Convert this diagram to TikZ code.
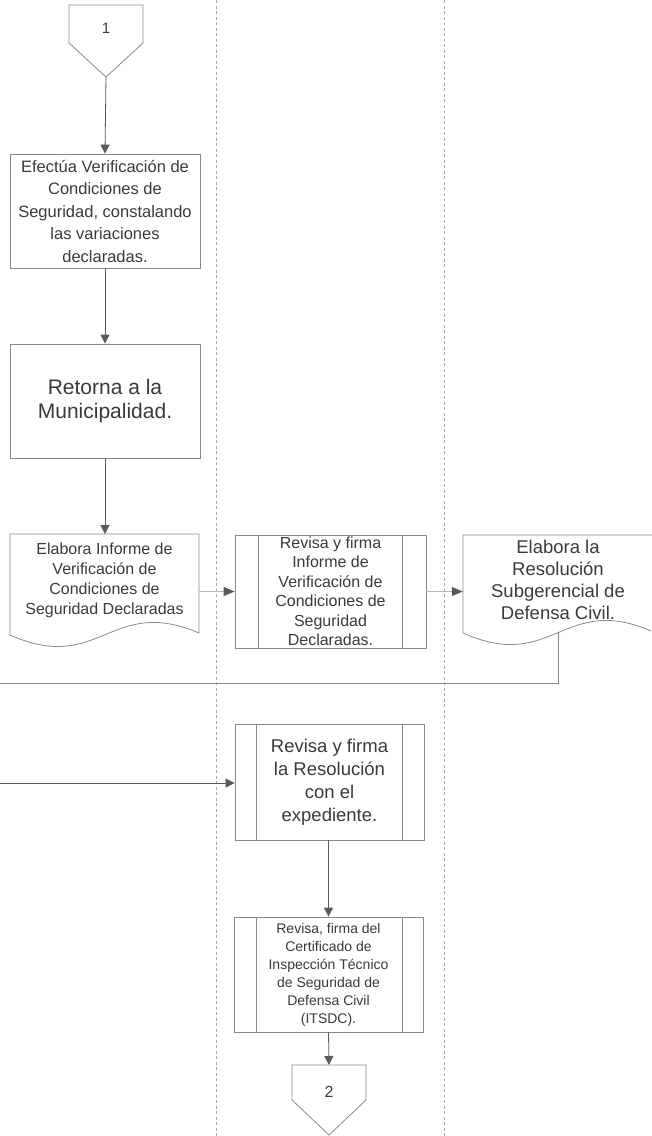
\documentclass[tikz,border=0pt]{standalone}
\usepackage{fontspec}
\setmainfont{Liberation Sans}
\usetikzlibrary{arrows.meta,calc}
\definecolor{inkgray}{HTML}{3A3A3A}
\definecolor{boxgray}{HTML}{8A8A8A}
\definecolor{flowgray}{HTML}{5A5A5A}
\definecolor{lightflow}{HTML}{B8B8B8}
\definecolor{lanegray}{HTML}{A8A8A8}
\tikzset{
  boxline/.style={draw=boxgray, line width=0.8pt},
  procbox/.style={boxline, align=center, text=inkgray, inner sep=0pt},
  txt/.style={align=center, text=inkgray, inner sep=0pt},
  flow/.style={draw=flowgray, line width=0.8pt,
    -{Triangle[width=9pt,length=9pt]}, color=flowgray},
  softflow/.style={draw=lightflow, line width=0.8pt,
    -{Triangle[width=9pt,length=11pt,color=flowgray]}},
  route/.style={draw=boxgray, line width=0.8pt},
  lane/.style={draw=lanegray, line width=0.6pt, dash pattern=on 3pt off 2.5pt},
}
\begin{document}
\begin{tikzpicture}[x=1pt,y=-1pt]
\useasboundingbox (0,0) rectangle (652,1136);
\clip (0,0) rectangle (652,1136);

% swimlane dividers
\draw[lane] (216,0) -- (216,1136);
\draw[lane] (444,0) -- (444,1136);

% off-page connector 1
\draw[boxline] (69,5) -- (143,5) -- (143,43) -- (106,77) -- (69,43) -- cycle;
\node[txt, font=\fontsize{15}{18}\selectfont] (c1) at (106,28) {1};
\coordinate (c1tip) at (106,77);

% lane 1
\node[procbox, minimum width=190pt, minimum height=114pt,
      font=\fontsize{16.5}{22.5}\selectfont] (b1) at (105,211)
  {Efectúa Verificación de\\Condiciones de\\Seguridad, constalando\\las variaciones\\declaradas.};

\node[procbox, minimum width=190pt, minimum height=114pt,
      font=\fontsize{21}{23.5}\selectfont] (b2) at (105,401)
  {Retorna a la\\Municipalidad.};

% document shape
\draw[boxline] (10,635) -- (10,534) -- (199,534) -- (199,633)
  .. controls (110,595) and (100,675) .. (10,635);
\node[txt, minimum width=189pt, font=\fontsize{16}{20}\selectfont] (b3) at (104.5,580)
  {Elabora Informe de\\Verificación de\\Condiciones de\\Seguridad Declaradas};

% lane 2
\node[procbox, minimum width=191pt, minimum height=113pt,
      font=\fontsize{16}{19.5}\selectfont] (b4) at (330.5,591.5)
  {Revisa y firma\\Informe de\\Verificación de\\Condiciones de\\Seguridad\\Declaradas.};
\draw[boxline] ($(b4.north west)+(24,0)$) -- ($(b4.south west)+(24,0)$);
\draw[boxline] ($(b4.north east)+(-24,0)$) -- ($(b4.south east)+(-24,0)$);

% lane 3 document shape
\draw[boxline] (651,631) .. controls (563,593) and (553,673) .. (463,633)
  -- (463,535) -- (652,535);
\node[txt, minimum width=190pt, font=\fontsize{18.5}{22}\selectfont] (b5) at (558,579.5)
  {Elabora la\\Resolución\\Subgerencial de\\Defensa Civil.};
\coordinate (b5out) at (558,633);

\node[procbox, minimum width=189pt, minimum height=116pt,
      font=\fontsize{18.5}{23}\selectfont] (b6) at (329.5,782)
  {Revisa y firma\\la Resolución\\con el\\expediente.};
\draw[boxline] ($(b6.north west)+(22,0)$) -- ($(b6.south west)+(22,0)$);
\draw[boxline] ($(b6.north east)+(-22,0)$) -- ($(b6.south east)+(-22,0)$);

\node[procbox, minimum width=189pt, minimum height=115pt,
      font=\fontsize{14}{18}\selectfont] (b7) at (328.5,974.5)
  {Revisa, firma del\\Certificado de\\Inspección Técnico\\de Seguridad de\\Defensa Civil\\(ITSDC).};
\draw[boxline] ($(b7.north west)+(23,0)$) -- ($(b7.south west)+(23,0)$);
\draw[boxline] ($(b7.north east)+(-21,0)$) -- ($(b7.south east)+(-21,0)$);

% off-page connector 2
\draw[boxline] (292,1065) -- (366,1065) -- (366,1100) -- (329,1135) -- (292,1100) -- cycle;
\node[txt, font=\fontsize{16}{18}\selectfont] (c2) at (329,1092) {2};
\coordinate (c2top) at (329,1065);

% flow
\draw[flow] (c1tip) -- (b1.north);
\draw[flow] (b1.south) -- (b2.north);
\draw[flow] (b2.south) -- (105,534);
\draw[softflow] (b3.east |- b4.west) -- (b4.west);
\draw[softflow] (b4.east) -- (b5.west |- b4.east);
\coordinate (exitL) at (0,683);
\coordinate (entryL) at (0,783);
\draw[route] (b5out) -- (558,683) -- (exitL);
\draw[flow] (entryL) -- (b6.west |- entryL);
\draw[flow] (b6.south -| b7.north) -- (b7.north);
\draw[flow] (b7.south) -- (c2top);
\end{tikzpicture}
\end{document}
